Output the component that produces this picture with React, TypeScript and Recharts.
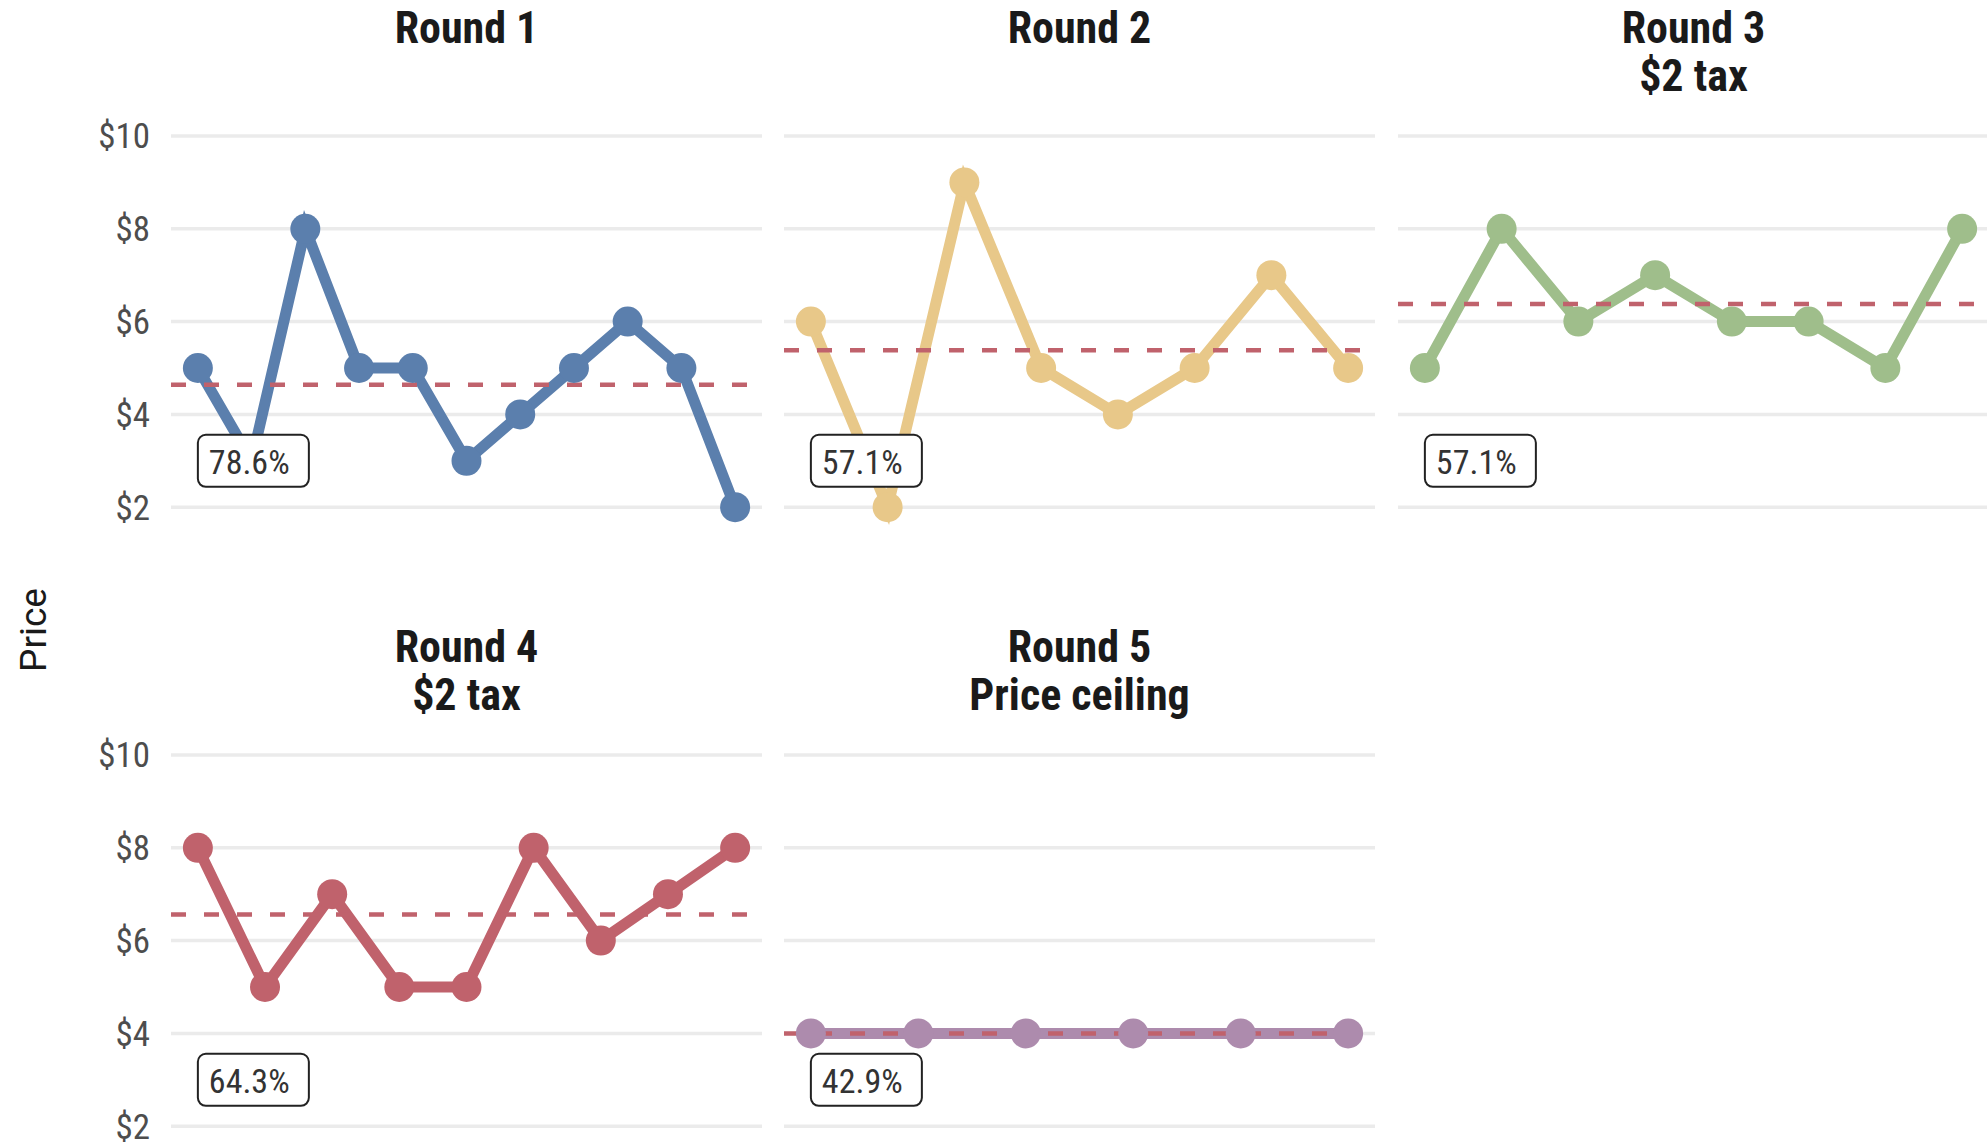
import React from "react";
import { LineChart, Line, XAxis, YAxis, CartesianGrid, ReferenceLine, ReferenceDot } from "recharts";

// prices per transaction
const round1Prices = [5, 3, 8, 5, 5, 3, 4, 5, 6, 5, 2];
const round2Prices = [6, 2, 9, 5, 4, 5, 7, 5];
const round3Prices = [5, 8, 6, 7, 6, 6, 5, 8];
const round4Prices = [8, 5, 7, 5, 5, 8, 6, 7, 8];
const round5Prices = [4, 4, 4, 4, 4, 4];

const roundTitles = ["Round 1", "Round 2", "Round 3", "Round 4", "Round 5"];
const roundSubtitles = ["", "", "$2 tax", "$2 tax", "Price ceiling"];
const averagePrices = [4.64, 5.38, 6.38, 6.56, 4.0];
const shareLabels = ["78.6%", "57.1%", "57.1%", "64.3%", "42.9%"];
const labelPrice = 3;
const priceTicks = [2, 4, 6, 8, 10];

const colors = ["#5b7fad", "#e8c889", "#9fbe8b", "#c0626c", "#ad8bad"];
const meanColor = "#c0626c";

const condensed = "'Roboto Condensed', 'Liberation Sans Narrow', 'Arial Narrow', 'DejaVu Sans Condensed', sans-serif";

const PLOT_W = 591;
const PLOT_H = 371.2;
const M_TOP = 30;
const M_BOTTOM = 30;
const AXIS_W = 120;
const colX = [171, 784, 1398];
const rowY10 = [135.6, 755];

const allPrices = [round1Prices, round2Prices, round3Prices, round4Prices, round5Prices];

function Panel({ idx }: { idx: number }) {
  const prices = allPrices[idx];
  const col = idx % 3;
  const row = Math.floor(idx / 3);
  const showAxis = col === 0;
  const n = prices.length;
  const pad = 0.05 * (n - 1);
  const data = prices.map((p, i) => ({ x: i + 1, price: p }));
  const color = colors[idx];
  const label = shareLabels[idx];

  const left = colX[col] - (showAxis ? AXIS_W : 0);
  const top = rowY10[row] - M_TOP;
  const width = PLOT_W + (showAxis ? AXIS_W : 0);
  const height = PLOT_H + M_TOP + M_BOTTOM;

  return (
    <div style={{ position: "absolute", left, top, width, height }}>
      <LineChart width={width} height={height} data={data} margin={{ top: M_TOP, bottom: M_BOTTOM, left: 0, right: 0 }}>
        <CartesianGrid vertical={false} stroke="#ebebeb" strokeWidth={3.5} />
        <XAxis type="number" dataKey="x" domain={[1 - pad, n + pad]} hide />
        <YAxis
          type="number"
          domain={[2, 10]}
          ticks={priceTicks}
          hide={!showAxis}
          width={AXIS_W}
          axisLine={false}
          tickLine={false}
          tickMargin={15}
          tickFormatter={(v) => `$${v}`}
          tick={{ fill: "#4d4d4d", fontSize: 35, fontFamily: condensed }}
        />
        <Line
          dataKey="price"
          stroke={color}
          strokeWidth={11}
          dot={{ r: 15, fill: color, stroke: color, strokeWidth: 0 }}
          activeDot={false}
          isAnimationActive={false}
        />
        <ReferenceLine y={averagePrices[idx]} stroke={meanColor} strokeWidth={4.5} strokeDasharray="15 18" />
        <ReferenceDot
          x={1}
          y={labelPrice}
          shape={(p: any) => (
            <g>
              <rect x={p.cx} y={p.cy - 26} width={111} height={52} rx={8} fill="#fff" stroke="#222" strokeWidth={2} />
              <text x={p.cx + 11} y={p.cy + 1} dominantBaseline="central" fontSize={34} fontFamily={condensed} fill="#333">
                {label}
              </text>
            </g>
          )}
        />
      </LineChart>
    </div>
  );
}

function Title({ idx }: { idx: number }) {
  const col = idx % 3;
  const row = Math.floor(idx / 3);
  const top = row === 0 ? 4 : 623;
  return (
    <div
      style={{
        position: "absolute",
        left: colX[col],
        top,
        width: PLOT_W,
        textAlign: "center",
        fontFamily: condensed,
        fontWeight: 700,
        fontSize: 44,
        lineHeight: "48px",
        color: "#1a1a1a",
      }}
    >
      <div>{roundTitles[idx]}</div>
      {roundSubtitles[idx] && <div>{roundSubtitles[idx]}</div>}
    </div>
  );
}

export default function App() {
  return (
    <div style={{ position: "absolute", left: 0, top: 0, width: 1987, height: 1146, overflow: "hidden", background: "#fff" }}>
      {roundTitles.map((_, i) => (
        <Title key={"t" + i} idx={i} />
      ))}
      {roundTitles.map((_, i) => (
        <Panel key={"p" + i} idx={i} />
      ))}
      <div
        style={{
          position: "absolute",
          left: 33,
          top: 630,
          transform: "translate(-50%, -50%) rotate(-90deg)",
          fontFamily: "Roboto, sans-serif",
          fontSize: 37,
          color: "#1a1a1a",
          whiteSpace: "nowrap",
        }}
      >
        Price
      </div>
    </div>
  );
}
